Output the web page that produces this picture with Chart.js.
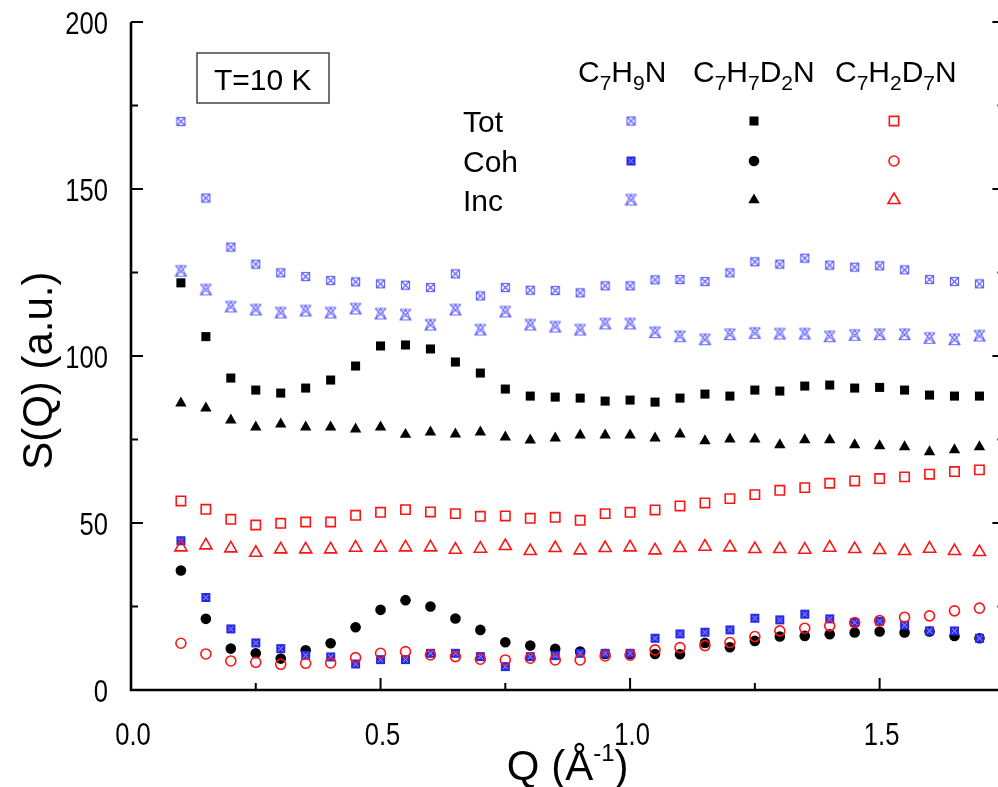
<!DOCTYPE html>
<html>
<head>
<meta charset="utf-8">
<script src="https://cdn.jsdelivr.net/npm/chart.js@4.4.1/dist/chart.umd.min.js"></script>
<style>
  html, body { margin: 0; padding: 0; background: #fff; overflow: hidden; }
</style>
</head>
<body>
<canvas id="chart" width="1013" height="787"></canvas>
<script>
// Q values (1/Angstrom)
const q = [0.1, 0.15, 0.2, 0.25, 0.3, 0.35, 0.4, 0.45, 0.5, 0.55, 0.6, 0.65, 0.7, 0.75, 0.8,
           0.85, 0.9, 0.95, 1.0, 1.05, 1.1, 1.15, 1.2, 1.25, 1.3, 1.35, 1.4, 1.45, 1.5, 1.55,
           1.6, 1.65, 1.7];

// C7H9N
const h9Tot = [170.2, 147.3, 132.6, 127.5, 124.9, 123.8, 122.6, 122.2, 121.6, 121.2, 120.5, 124.6, 118.0, 120.5, 119.7,
               119.6, 118.9, 121.0, 121.0, 122.8, 122.9, 122.3, 124.9, 128.2, 127.5, 129.3, 127.2, 126.6, 127.0, 125.8,
               122.9, 122.3, 121.6];
const h9Coh = [44.7, 27.7, 18.3, 14.1, 12.4, 10.4, 9.9, 7.8, 9.1, 9.1, 11.0, 11.0, 10.0, 7.0, 10.0,
               10.3, 11.0, 11.0, 11.0, 15.5, 16.8, 17.3, 18.0, 21.5, 21.0, 22.7, 21.3, 20.2, 20.6, 19.4,
               17.7, 17.7, 15.5];
const h9Inc = [125.4, 119.8, 114.7, 113.8, 112.9, 113.5, 112.9, 114.1, 112.6, 112.3, 109.3, 113.8, 107.8, 113.2, 109.3,
               108.7, 107.8, 109.6, 109.6, 107.0, 105.8, 104.9, 106.4, 106.8, 106.6, 106.6, 105.8, 106.2, 106.4, 106.4,
               105.3, 104.9, 106.0];
// C7H7D2N
const d2Tot = [121.9, 105.8, 93.4, 89.8, 88.9, 90.4, 92.8, 97.0, 103.0, 103.3, 102.1, 98.2, 94.9, 90.1, 88.0,
               87.7, 87.4, 86.5, 86.8, 86.2, 87.4, 88.6, 88.0, 89.8, 89.5, 91.0, 91.3, 90.4, 90.6, 89.8,
               88.3, 88.0, 88.0];
const d2Coh = [35.8, 21.3, 12.4, 11.0, 9.4, 11.9, 14.0, 18.8, 24.0, 26.9, 25.0, 21.4, 18.0, 14.3, 13.3,
               12.3, 11.5, 10.8, 10.8, 10.8, 10.7, 14.1, 12.8, 14.7, 16.0, 16.2, 16.7, 17.2, 17.5, 17.2,
               17.5, 16.2, 15.5];
const d2Inc = [85.9, 84.4, 80.8, 78.7, 79.6, 78.7, 78.7, 78.1, 78.7, 76.5, 77.2, 76.6, 77.2, 75.7, 74.8,
               75.4, 76.3, 76.3, 76.3, 75.4, 76.6, 74.6, 75.1, 75.1, 73.4, 74.9, 74.9, 73.4, 73.1, 72.8,
               71.3, 71.9, 72.8];
// C7H2D7N
const d7Tot = [56.6, 54.1, 51.1, 49.4, 49.9, 50.3, 50.3, 52.3, 53.2, 54.0, 53.3, 52.8, 52.0, 52.1, 51.4,
               51.7, 50.8, 52.8, 53.2, 53.9, 55.1, 56.0, 57.3, 58.5, 59.8, 60.6, 61.9, 62.6, 63.3, 63.8,
               64.6, 65.4, 65.9];
const d7Coh = [14.0, 10.8, 8.7, 8.3, 7.7, 8.0, 8.1, 9.7, 11.0, 11.5, 10.5, 10.0, 9.2, 9.0, 9.5,
               9.0, 9.0, 10.2, 10.4, 12.0, 12.7, 13.3, 14.2, 16.0, 17.7, 18.5, 19.2, 20.2, 20.8, 21.8,
               22.2, 23.7, 24.5];
const d7Inc = [42.7, 43.3, 42.4, 41.1, 42.1, 42.1, 42.1, 42.6, 42.6, 42.7, 42.7, 42.0, 42.3, 43.1, 41.6,
               42.5, 41.8, 42.5, 42.7, 41.8, 42.5, 42.9, 42.7, 42.2, 42.2, 42.0, 42.6, 42.2, 41.9, 41.6,
               42.3, 41.6, 41.3];

const xTicks = [0, 0.5, 1.0, 1.5];
const xTickLabels = ['0.0', '0.5', '1.0', '1.5'];
const yTicks = [0, 50, 100, 150, 200];
const yTickLabels = ['0', '50', '100', '150', '200'];
const rowNames = ['Tot', 'Coh', 'Inc'];

const FONT = '"Liberation Sans", Arial, sans-serif';

// custom markers for the C7H9N series
function marker(size, draw) {
    let c = document.createElement('canvas');
    c.width = size;
    c.height = size;
    draw(c.getContext('2d'), size);
    return c;
}
const blueTot = marker(11, function (g, s) {
    g.strokeStyle = 'rgba(70,70,255,0.85)';
    g.lineWidth = 1.2;
    g.strokeRect(1.5, 1.5, s - 3, s - 3);
    g.beginPath();
    g.moveTo(2, 2); g.lineTo(s - 2, s - 2);
    g.moveTo(s - 2, 2); g.lineTo(2, s - 2);
    g.stroke();
});
const blueCoh = marker(11, function (g, s) {
    g.fillStyle = 'rgb(40,40,235)';
    g.fillRect(1, 1, s - 2, s - 2);
    g.strokeStyle = 'rgba(200,200,255,0.8)';
    g.lineWidth = 1;
    g.beginPath();
    g.moveTo(3, 3); g.lineTo(s - 3, s - 3);
    g.moveTo(s - 3, 3); g.lineTo(3, s - 3);
    g.stroke();
});
const blueInc = marker(15, function (g, s) {
    g.strokeStyle = 'rgba(70,70,255,0.8)';
    g.lineWidth = 1.1;
    g.beginPath();
    g.moveTo(2, 2); g.lineTo(s - 2, s - 2);
    g.moveTo(s - 2, 2); g.lineTo(2, s - 2);
    g.moveTo(s / 2, 2); g.lineTo(s - 2, s - 2.5); g.lineTo(2, s - 2.5); g.closePath();
    g.moveTo(2, 2); g.lineTo(s - 2, 2);
    g.stroke();
});

function pts(arr) {
    return q.map((x, i) => ({x: x, y: arr[i]}));
}

const RED = 'rgb(255,20,20)';
// index 0 is drawn on top
const datasets = [
    {label: 'C7H2D7N Coh', data: pts(d7Coh), pointStyle: 'circle', pointRadius: 5, borderColor: RED, backgroundColor: 'rgba(0,0,0,0)', pointBorderWidth: 1.6},
    {label: 'C7H2D7N Tot', data: pts(d7Tot), pointStyle: 'rect', pointRadius: 6.6, borderColor: RED, backgroundColor: 'rgba(0,0,0,0)', pointBorderWidth: 1.6},
    {label: 'C7H2D7N Inc', data: pts(d7Inc), pointStyle: 'triangle', pointRadius: 7, borderColor: RED, backgroundColor: 'rgba(0,0,0,0)', pointBorderWidth: 1.6},
    {label: 'C7H9N Coh', data: pts(h9Coh), pointStyle: blueCoh, pointRadius: 5, borderColor: 'blue', backgroundColor: 'blue'},
    {label: 'C7H9N Tot', data: pts(h9Tot), pointStyle: blueTot, pointRadius: 5, borderColor: 'blue', backgroundColor: 'blue'},
    {label: 'C7H9N Inc', data: pts(h9Inc), pointStyle: blueInc, pointRadius: 5, borderColor: 'blue', backgroundColor: 'blue'},
    {label: 'C7H7D2N Tot', data: pts(d2Tot), pointStyle: 'rect', pointRadius: 6.4, borderColor: '#000', backgroundColor: '#000', pointBorderWidth: 0},
    {label: 'C7H7D2N Coh', data: pts(d2Coh), pointStyle: 'circle', pointRadius: 5.3, borderColor: '#000', backgroundColor: '#000', pointBorderWidth: 0},
    {label: 'C7H7D2N Inc', data: pts(d2Inc), pointStyle: 'triangle', pointRadius: 6.6, borderColor: '#000', backgroundColor: '#000', pointBorderWidth: 0}
];

// draws a formula like C7H9N with subscripts
function chem(ctx, parts, x, y) {
    for (let p of parts) {
        let sub = /[0-9]/.test(p);
        ctx.font = (sub ? '21px ' : '30px ') + FONT;
        ctx.fillText(p, x, sub ? y + 8 : y);
        x += ctx.measureText(p).width;
    }
}

// narrow tick label text, like the original plot
function narrowText(ctx, text, x, y, align) {
    ctx.save();
    ctx.translate(x, y);
    ctx.scale(0.8, 1);
    ctx.textAlign = align;
    ctx.fillText(text, 0, 0);
    ctx.restore();
}

const framePlugin = {
    id: 'frame',
    afterDraw(chart) {
        let ctx = chart.ctx;
        let ca = chart.chartArea;
        let xs = chart.scales.x, ys = chart.scales.y;
        ctx.save();
        ctx.strokeStyle = '#000';
        ctx.fillStyle = '#000';

        // axes (the right-hand one sits just outside the picture)
        ctx.lineWidth = 2.6;
        ctx.beginPath();
        ctx.moveTo(ca.left, ca.top);
        ctx.lineTo(ca.left, ca.bottom);
        ctx.lineTo(ca.right, ca.bottom);
        ctx.lineTo(ca.right, ca.top);
        ctx.stroke();

        // inward ticks
        ctx.lineWidth = 2;
        ctx.beginPath();
        for (let i = 0; i < yTicks.length; i++) {
            let py = ys.getPixelForValue(yTicks[i]);
            ctx.moveTo(ca.left, py); ctx.lineTo(ca.left + 12, py);
            ctx.moveTo(ca.right, py); ctx.lineTo(ca.right - 12, py);
            if (i < yTicks.length - 1) {
                let my = ys.getPixelForValue((yTicks[i] + yTicks[i + 1]) / 2);
                ctx.moveTo(ca.left, my); ctx.lineTo(ca.left + 7, my);
                ctx.moveTo(ca.right, my); ctx.lineTo(ca.right - 7, my);
            }
        }
        for (let i = 0; i < xTicks.length; i++) {
            let px = xs.getPixelForValue(xTicks[i]);
            ctx.moveTo(px, ca.bottom); ctx.lineTo(px, ca.bottom - 12);
            let mx = xs.getPixelForValue(xTicks[i] + 0.25);
            ctx.moveTo(mx, ca.bottom); ctx.lineTo(mx, ca.bottom - 7);
        }
        ctx.stroke();

        // tick labels
        ctx.font = '32px ' + FONT;
        ctx.textBaseline = 'alphabetic';
        for (let i = 0; i < xTicks.length; i++) {
            narrowText(ctx, xTickLabels[i], xs.getPixelForValue(xTicks[i]) + 2, ca.bottom + 55, 'center');
        }
        for (let i = 0; i < yTicks.length; i++) {
            narrowText(ctx, yTickLabels[i], ca.left - 23, ys.getPixelForValue(yTicks[i]) + 12, 'right');
        }

        // axis titles
        ctx.font = '42px ' + FONT;
        let a = 'Q (Å', b = '-1', c = ')';
        let wa = ctx.measureText(a).width, wc = ctx.measureText(c).width;
        ctx.font = '24px ' + FONT;
        let wb = ctx.measureText(b).width;
        let x0 = (ca.left + ca.right) / 2 - (wa + wb + wc) / 2;
        let by = ca.bottom + 90;
        ctx.font = '42px ' + FONT;
        ctx.fillText(a, x0, by);
        ctx.font = '24px ' + FONT;
        ctx.fillText(b, x0 + wa, by - 19);
        ctx.font = '42px ' + FONT;
        ctx.fillText(c, x0 + wa + wb, by);

        ctx.save();
        ctx.translate(52, ca.top + (ca.bottom - ca.top) * 0.522);
        ctx.rotate(-Math.PI / 2);
        ctx.textAlign = 'center';
        ctx.fillText('S(Q) (a.u.)', 0, 0);
        ctx.restore();

        // T=10 K box
        ctx.strokeStyle = '#444';
        ctx.lineWidth = 1.5;
        ctx.strokeRect(197, 53, 132, 50);
        ctx.font = '30px ' + FONT;
        ctx.fillText('T=10 K', 214, 90);

        // legend table
        chem(ctx, ['C', '7', 'H', '9', 'N'], 578, 82);
        chem(ctx, ['C', '7', 'H', '7', 'D', '2', 'N'], 693, 82);
        chem(ctx, ['C', '7', 'H', '2', 'D', '7', 'N'], 835, 82);
        ctx.font = '30px ' + FONT;
        let rowY = [121, 161, 200];
        for (let r = 0; r < 3; r++) {
            ctx.fillStyle = '#000';
            ctx.fillText(rowNames[r], 463, rowY[r] + 11);
        }
        let cols = [['C7H9N', 631], ['C7H7D2N', 754], ['C7H2D7N', 894]];
        for (let col of cols) {
            for (let r = 0; r < 3; r++) {
                let ds = datasets.find(d => d.label === col[0] + ' ' + rowNames[r]);
                ctx.fillStyle = ds.backgroundColor;
                ctx.strokeStyle = ds.borderColor;
                ctx.lineWidth = ds.pointBorderWidth || 0;
                Chart.helpers.drawPoint(ctx, {
                    pointStyle: ds.pointStyle, radius: ds.pointRadius, rotation: 0,
                    borderWidth: ds.pointBorderWidth || 0
                }, col[1], rowY[r]);
            }
        }
        ctx.restore();
    }
};

new Chart(document.getElementById('chart'), {
    type: 'scatter',
    data: {datasets: datasets},
    options: {
        responsive: false,
        animation: false,
        clip: false,
        layout: {padding: {top: 22, right: 0, left: 0, bottom: 0}},
        plugins: {legend: {display: false}, tooltip: {enabled: false}},
        scales: {
            x: {
                type: 'linear', min: 0, max: 1.75,
                grid: {display: false}, border: {display: false},
                afterBuildTicks: s => { s.ticks = xTicks.map(v => ({value: v})); },
                afterFit: s => { s.height = 97; },
                ticks: {display: false}
            },
            y: {
                min: 0, max: 200,
                grid: {display: false}, border: {display: false},
                afterBuildTicks: s => { s.ticks = yTicks.map(v => ({value: v})); },
                afterFit: s => { s.width = 131; },
                ticks: {display: false}
            }
        }
    },
    plugins: [framePlugin]
});
</script>
</body>
</html>
